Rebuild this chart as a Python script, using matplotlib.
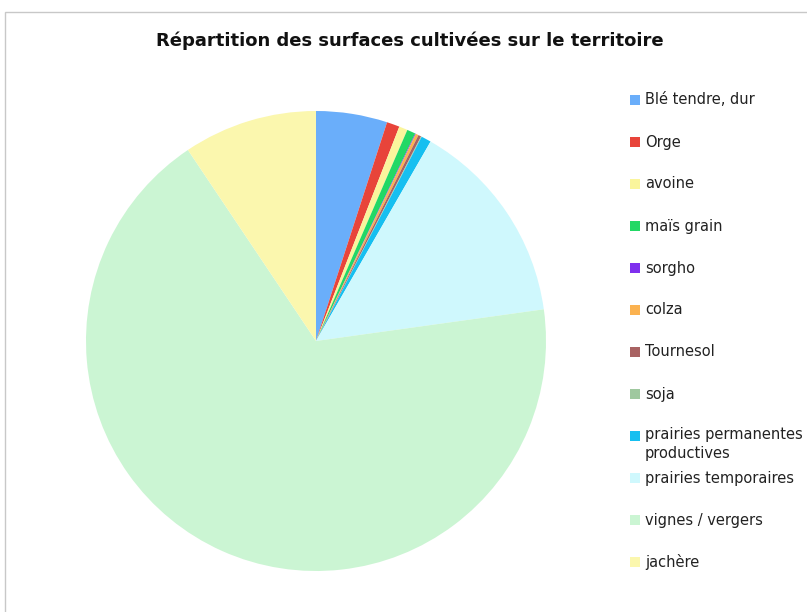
import matplotlib
matplotlib.use("Agg")
import matplotlib.pyplot as plt
from matplotlib.patches import Rectangle

labels = ["Blé tendre, dur", "Orge", "avoine", "maïs grain", "sorgho", "colza",
          "Tournesol", "soja", "prairies permanentes\nproductives",
          "prairies temporaires", "vignes / vergers", "jachère"]
values = [5.0, 0.9, 0.6, 0.6, 0.05, 0.2, 0.2, 0.05, 0.7, 14.5, 67.8, 9.4]
colors = ["#6aaefa", "#e8443a", "#faf59c", "#22d865", "#7f30ee", "#fbb250",
          "#a86262", "#9fc89f", "#16bff0", "#cff8fd", "#cbf5d3", "#fbf7ae"]

fig = plt.figure(figsize=(8.07, 6.12), dpi=100)

# light frame around chart
fig.patches.append(Rectangle((5 / 807, -0.1), 1.2, 1 - 12 / 612 + 0.1,
                             transform=fig.transFigure, fill=False,
                             edgecolor="#c8c8c8", linewidth=1.0))

ax = fig.add_axes([86 / 807, 41 / 612, 460 / 807, 460 / 612])
ax.pie(values, colors=colors, startangle=90, counterclock=False,
       wedgeprops={"linewidth": 0})
ax.set_xlim(-1, 1)
ax.set_ylim(-1, 1)
ax.set_aspect("equal")
ax.axis("off")

fig.text(410 / 807, 1 - 41 / 612, "Répartition des surfaces cultivées sur le territoire",
         ha="center", va="center", fontsize=13, fontweight="bold", color="#111111")

# legend
y = 100
for lab, col in zip(labels, colors):
    fig.patches.append(Rectangle((630 / 807, 1 - (y + 5) / 612), 10 / 807, 10 / 612,
                                 transform=fig.transFigure, facecolor=col,
                                 edgecolor="none"))
    if "\n" in lab:
        fig.text(645 / 807, 1 - (y - 9) / 612, lab, ha="left", va="top",
                 fontsize=10.5, color="#222222", linespacing=1.3)
    else:
        fig.text(645 / 807, 1 - y / 612, lab, ha="left", va="center",
                 fontsize=10.5, color="#222222")
    y += 42

fig.savefig("out.png", dpi=100)
